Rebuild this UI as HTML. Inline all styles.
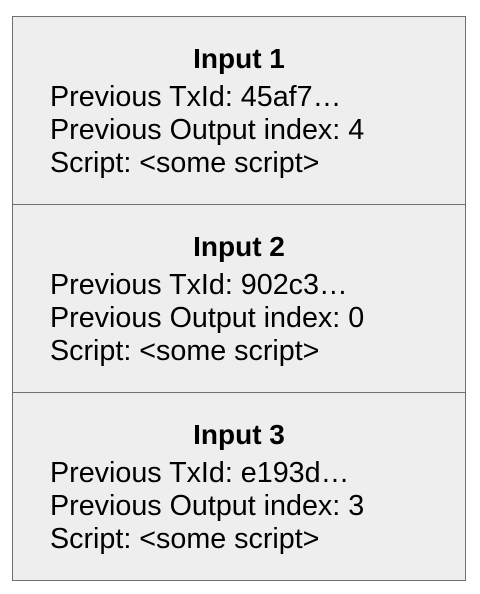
<!DOCTYPE html>
<html><head><style>
body{margin:0;width:480px;height:594px;background:#fff;position:relative;font-family:"Liberation Sans",sans-serif;color:#000}
.b{position:absolute;left:12px;width:452px;height:187px;background:#eeeeee;border:1px solid #707070;box-sizing:content-box}
.t{position:absolute;left:0;width:452px;text-align:center;font-weight:bold;font-size:28px;line-height:33px;top:25px}
.l{position:absolute;left:37px;font-size:28.7px;line-height:33px;white-space:nowrap}
</style></head><body>
<div class="b" style="top:16px">
<div class="t">Input 1</div>
<div class="l" style="top:64px">Previous TxId: 45af7…</div>
<div class="l" style="top:97px">Previous Output index: 4</div>
<div class="l" style="top:130px">Script: &lt;some script&gt;</div>
</div>
<div class="b" style="top:204px">
<div class="t">Input 2</div>
<div class="l" style="top:64px">Previous TxId: 902c3…</div>
<div class="l" style="top:97px">Previous Output index: 0</div>
<div class="l" style="top:130px">Script: &lt;some script&gt;</div>
</div>
<div class="b" style="top:392px">
<div class="t">Input 3</div>
<div class="l" style="top:64px">Previous TxId: e193d…</div>
<div class="l" style="top:97px">Previous Output index: 3</div>
<div class="l" style="top:130px">Script: &lt;some script&gt;</div>
</div>
</body></html>
